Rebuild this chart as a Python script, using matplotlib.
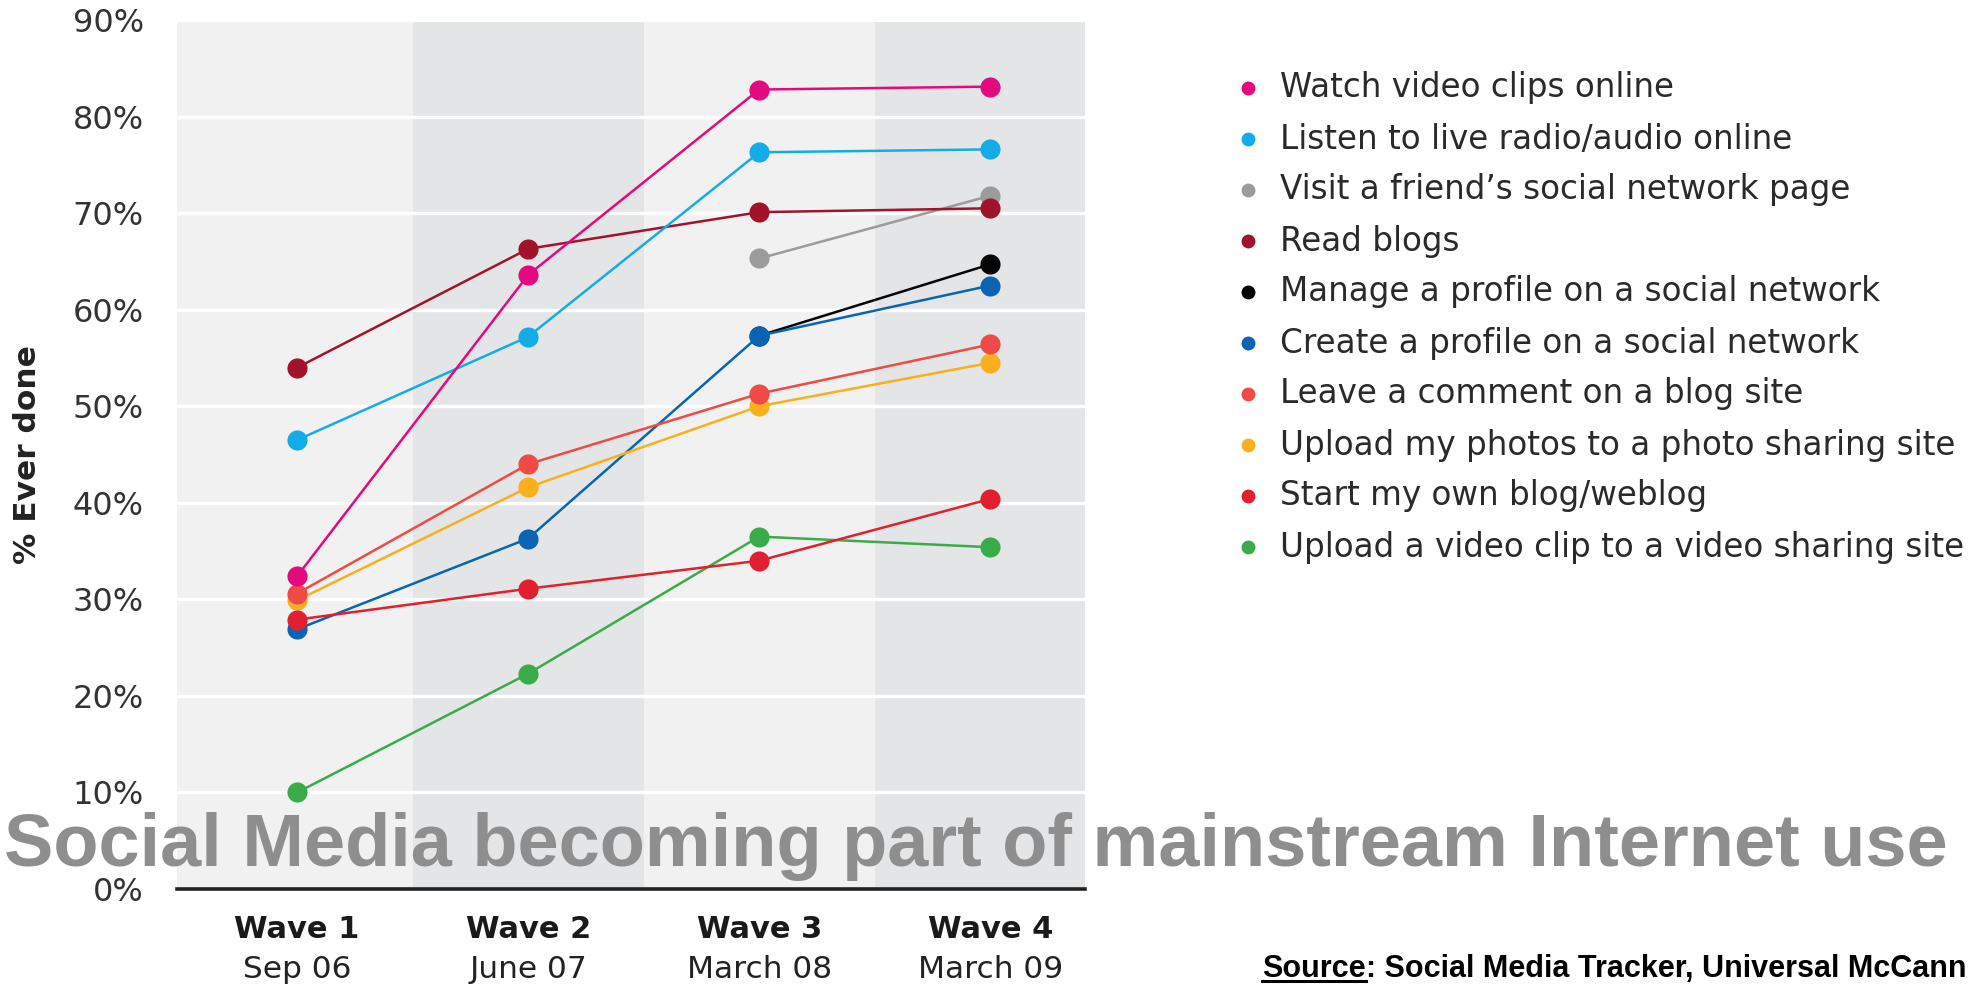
import matplotlib
matplotlib.use("Agg")
import matplotlib.pyplot as plt
from matplotlib.lines import Line2D
import numpy as np

# ---------------- data ----------------
waves = ["Wave 1", "Wave 2", "Wave 3", "Wave 4"]
wave_dates = ["Sep 06", "June 07", "March 08", "March 09"]
series_names = [
    "Watch video clips online",
    "Listen to live radio/audio online",
    "Visit a friend\u2019s social network page",
    "Read blogs",
    "Manage a profile on a social network",
    "Create a profile on a social network",
    "Leave a comment on a blog site",
    "Upload my photos to a photo sharing site",
    "Start my own blog/weblog",
    "Upload a video clip to a video sharing site",
]
watch_video = [32.4, 63.6, 82.8, 83.1]
listen_radio = [46.5, 57.2, 76.3, 76.6]
visit_friend = [None, None, 65.3, 71.8]
read_blogs = [54.0, 66.3, 70.1, 70.5]
manage_profile = [None, None, 57.3, 64.7]
create_profile = [26.9, 36.3, 57.3, 62.5]
leave_comment = [30.6, 44.0, 51.3, 56.4]
upload_photos = [29.9, 41.6, 50.0, 54.5]
start_blog = [27.9, 31.1, 34.0, 40.4]
upload_video = [10.0, 22.3, 36.5, 35.4]
series_values = [watch_video, listen_radio, visit_friend, read_blogs, manage_profile,
                 create_profile, leave_comment, upload_photos, start_blog, upload_video]
colors = ["#e5097f", "#14ace8", "#9b9b9b", "#a3122b", "#050505",
          "#0a64b4", "#ef4a45", "#f9b01c", "#e0202f", "#3aab49"]
yticks = [0, 10, 20, 30, 40, 50, 60, 70, 80, 90]
ytick_labels = ["0%", "10%", "20%", "30%", "40%", "50%", "60%", "70%", "80%", "90%"]
title = "Social Media becoming part of mainstream Internet use"
source_label = "Source"
source_rest = ": Social Media Tracker, Universal McCann"

# ---------------- figure ----------------
W, H = 1978, 985
fig = plt.figure(figsize=(W / 100, H / 100), dpi=100)
fig.patch.set_facecolor("white")

ax_l, ax_r, ax_t, ax_b = 177, 1085, 20, 889
ax = fig.add_axes([ax_l / W, 1 - ax_b / H, (ax_r - ax_l) / W, (ax_b - ax_t) / H])
x = np.arange(len(waves))
ax.set_xlim(-0.52, 3.41)
ax.set_ylim(0, 90)
ax.set_facecolor("#f1f1f1")

# alternating column bands
for i in range(len(waves)):
    if i % 2 == 1:
        ax.axvspan(i - 0.5, i + 0.5, color="#e3e5e7", zorder=0, lw=0)

# white gridlines
for t in yticks[1:]:
    ax.axhline(t, color="white", lw=2.4, zorder=1)

for s in ["top", "right", "left"]:
    ax.spines[s].set_visible(False)
ax.spines["bottom"].set_color("#222222")
ax.spines["bottom"].set_linewidth(2.6)
ax.spines["bottom"].set_zorder(5)

ax.set_yticks(yticks)
ax.set_yticklabels(ytick_labels, fontsize=23, color="#333333", family="DejaVu Sans")
ax.tick_params(axis="y", length=0, pad=24)
ax.set_xticks([])
ax.set_ylabel("% Ever done", fontsize=22.5, fontweight="bold", color="#222222",
              family="DejaVu Sans")
ax.yaxis.set_label_coords(-(ax_l - 28) / (ax_r - ax_l), 0.5)
ax.yaxis.label.set_va("center")

trans = matplotlib.transforms.blended_transform_factory(ax.transData, fig.transFigure)
for i, (w, d) in enumerate(zip(waves, wave_dates)):
    ax.text(x[i], 1 - 930 / H, w, transform=trans, ha="center", va="center",
            fontsize=22, fontweight="bold", color="#1a1a1a", family="DejaVu Sans")
    ax.text(x[i], 1 - 970 / H, d, transform=trans, ha="center", va="center",
            fontsize=22.5, color="#222222", family="DejaVu Sans")

# series
zorders = [12, 11, 8, 9, 7, 8.5, 10, 9.5, 9.7, 6]
for name, vals, c, z in zip(series_names, series_values, colors, zorders):
    xs = [xi for xi, v in zip(x, vals) if v is not None]
    ys = [v for v in vals if v is not None]
    ax.plot(xs, ys, color=c, lw=1.8, marker="o", markersize=14.5, markeredgewidth=0,
            zorder=z, solid_capstyle="round", label=name)

# legend (manual)
leg_x_marker = 1248
leg_x_text = 1280
leg_y0 = 88
leg_dy = 51.0
for i, (name, c) in enumerate(zip(series_names, colors)):
    yy = 1 - (leg_y0 + i * leg_dy) / H
    fig.add_artist(Line2D([leg_x_marker / W], [yy], marker="o", markersize=10,
                          color=c, markeredgewidth=0, linestyle="none",
                          transform=fig.transFigure))
    fig.text(leg_x_text / W, yy, name, fontsize=23.5, color="#2a2a2a",
             va="center", ha="left", family="DejaVu Sans")

# title, fit to width
narrow = ["Liberation Sans Narrow", "Liberation Sans"]
t = fig.text(4 / W, 1 - 866 / H, title, fontsize=60, fontweight="bold",
             color="#8e8e8e", family=narrow, ha="left", va="baseline",
             zorder=20)
fig.canvas.draw()
r = fig.canvas.get_renderer()
bb = t.get_window_extent(r)
t.set_fontsize(60 * 1946 / bb.width)

# source text
base_y = 977
s1 = fig.text(1262 / W, 1 - base_y / H, source_label, fontsize=23, fontweight="bold",
              color="black", family=narrow, ha="left", va="baseline")
fig.canvas.draw()
bb1 = s1.get_window_extent(r)
s2 = fig.text(bb1.x1 / W, 1 - base_y / H, source_rest, fontsize=23, fontweight="bold",
              color="black", family=narrow, ha="left", va="baseline")
fig.canvas.draw()
bb2 = s2.get_window_extent(r)
total = bb2.x1 - bb1.x0
scale = 705 / total
s1.set_fontsize(23 * scale)
s2.set_fontsize(23 * scale)
fig.canvas.draw()
bb1 = s1.get_window_extent(r)
s2.set_x(bb1.x1 / W)
uy = (H - base_y - 4) / H
fig.add_artist(Line2D([bb1.x0 / W, bb1.x1 / W], [uy, uy], color="black", lw=2.2,
                      transform=fig.transFigure))

fig.savefig("out.png", dpi=100, facecolor="white")
